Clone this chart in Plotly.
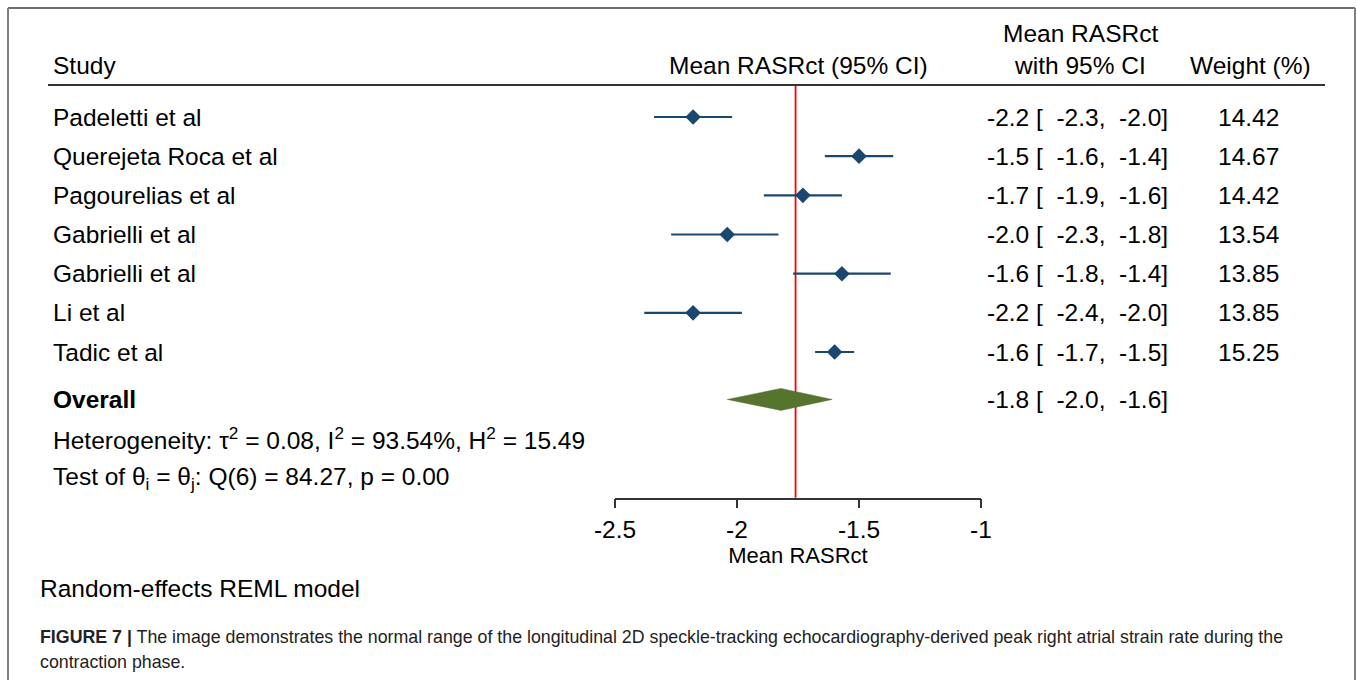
import plotly.graph_objects as go

# ---------------- data ----------------
studies = ["Padeletti et al", "Querejeta Roca et al", "Pagourelias et al",
           "Gabrielli et al", "Gabrielli et al", "Li et al", "Tadic et al"]
mean_vals = [-2.18, -1.50, -1.73, -2.04, -1.57, -2.18, -1.60]
lower_ci = [-2.34, -1.64, -1.89, -2.27, -1.77, -2.38, -1.68]
upper_ci = [-2.02, -1.36, -1.57, -1.83, -1.37, -1.98, -1.52]
weights = [14.42, 14.67, 14.42, 13.54, 13.85, 13.85, 15.25]

overall_mean = -1.82
overall_lower = -2.04
overall_upper = -1.61
reference_line = -1.76

x_ticks = [-2.5, -2, -1.5, -1]
x_tick_labels = ["-2.5", "-2", "-1.5", "-1"]

heterogeneity_text = "Heterogeneity: τ<sup>2</sup> = 0.08, I<sup>2</sup> = 93.54%, H<sup>2</sup> = 15.49"
test_text = "Test of θ<sub>i</sub> = θ<sub>j</sub>: Q(6) = 84.27, p = 0.00"
model_text = "Random-effects REML model"
caption_line1 = ("<b>FIGURE 7 |</b> The image demonstrates the normal range of the longitudinal 2D "
                 "speckle-tracking echocardiography-derived peak right atrial strain rate during the")
caption_line2 = "contraction phase."

# ---------------- layout constants ----------------
W, H = 1357, 680
FONT = "Liberation Sans, Arial, Helvetica, sans-serif"
NAVY = "#1a476f"
GREEN = "#55752f"
FS = 24.5

x_left_px, x_right_px = 615, 981
top_px, bot_px = 85, 497.7
row1_px, step_px = 117, 39.17
y_top = 1 - (row1_px - top_px) / step_px
y_bot = 1 + (bot_px - row1_px) / step_px

n = len(studies)
rows = list(range(1, n + 1))
overall_row = n + 1.21
het_row = n + 2.22
test_row = n + 3.22
diamond_half = 11 / step_px


def px(xp):
    return xp / W


def py(yp):
    return 1 - yp / H


fig = go.Figure()

# study estimates with CI
fig.add_trace(go.Scatter(
    x=mean_vals, y=rows, mode="markers",
    marker=dict(symbol="diamond", size=12, color=NAVY, line=dict(width=0)),
    error_x=dict(type="data", symmetric=False,
                 array=[u - m for u, m in zip(upper_ci, mean_vals)],
                 arrayminus=[m - l for m, l in zip(mean_vals, lower_ci)],
                 width=0, thickness=2.2, color=NAVY),
    showlegend=False, hoverinfo="skip", cliponaxis=False))

# overall diamond
fig.add_trace(go.Scatter(
    x=[overall_lower, overall_mean, overall_upper, overall_mean, overall_lower],
    y=[overall_row, overall_row - diamond_half, overall_row, overall_row + diamond_half, overall_row],
    mode="lines", fill="toself", fillcolor=GREEN, line=dict(color=GREEN, width=0.5),
    showlegend=False, hoverinfo="skip"))

shapes = []
# reference line
shapes.append(dict(type="line", xref="x", yref="y domain", x0=reference_line, x1=reference_line,
                   y0=0, y1=1, line=dict(color="#ff0000", width=1.8), layer="below"))
# header rule
shapes.append(dict(type="line", xref="paper", yref="paper", x0=px(48), x1=px(1325),
                   y0=py(85), y1=py(85), line=dict(color="#333333", width=2)))
# frame
shapes.append(dict(type="line", xref="paper", yref="paper", x0=px(8), x1=px(1355),
                   y0=py(8), y1=py(8), line=dict(color="#3c3c3c", width=1.5)))
shapes.append(dict(type="line", xref="paper", yref="paper", x0=px(8), x1=px(8),
                   y0=py(8), y1=py(H + 5), line=dict(color="#808080", width=2)))
shapes.append(dict(type="line", xref="paper", yref="paper", x0=px(1355), x1=px(1355),
                   y0=py(8), y1=py(H + 5), line=dict(color="#808080", width=2)))

ann = []


def txt(text, x, y, xanchor="left", size=FS, yref="paper", color="#000000", yanchor="middle"):
    ann.append(dict(text=text, x=x, y=y, xref="paper", yref=yref, xanchor=xanchor,
                    yanchor=yanchor, showarrow=False,
                    font=dict(family=FONT, size=size, color=color)))


# headers
txt("Study", px(51), py(66))
txt("Mean RASRct (95% CI)", px(930), py(66), xanchor="right")
txt("Mean RASRct", px(1080), py(33), xanchor="center")
txt("with 95% CI", px(1080), py(66), xanchor="center")
txt("Weight (%)", px(1313), py(66), xanchor="right")

NB = "\u00a0"
for r, s, m, lo, hi, w in zip(rows, studies, mean_vals, lower_ci, upper_ci, weights):
    txt(s, px(51), r, yref="y")
    txt(f"{m:.1f} [{NB}{NB}{lo:.1f},{NB}{NB}{hi:.1f}]", px(985), r, yref="y")
    txt(f"{w:.2f}", px(1248), r, xanchor="center", yref="y")

txt("<b>Overall</b>", px(51), overall_row, yref="y")
txt(f"{overall_mean:.1f} [{NB}{NB}{overall_lower:.1f},{NB}{NB}{overall_upper:.1f}]",
    px(985), overall_row, yref="y")
txt(heterogeneity_text, px(51), het_row, yref="y")
txt(test_text, px(51), test_row, yref="y")

txt(model_text, px(38), py(588))
txt(caption_line1, px(38), py(637), size=17.8, color="#222222")
txt(caption_line2, px(38), py(662), size=17.8, color="#222222")

fig.update_layout(
    width=W, height=H, margin=dict(l=0, r=0, t=0, b=0, pad=0, autoexpand=False),
    paper_bgcolor="white", plot_bgcolor="white",
    font=dict(family=FONT, color="#000000"),
    showlegend=False,
    shapes=shapes, annotations=ann,
    xaxis=dict(domain=[px(x_left_px), px(x_right_px)], range=[-2.5, -1],
               tickvals=x_ticks, ticktext=x_tick_labels, automargin=False,
               showline=True, linecolor="#333333", linewidth=1.5,
               ticks="outside", ticklen=9, tickwidth=1.5, tickcolor="#333333",
               tickfont=dict(family=FONT, size=FS, color="#000000"),
               showgrid=False, zeroline=False, fixedrange=True,
               title=dict(text="Mean RASRct", standoff=0,
                          font=dict(family=FONT, size=22, color="#000000"))),
    yaxis=dict(domain=[py(bot_px), py(top_px)], range=[y_bot, y_top], automargin=False,
               visible=False, showgrid=False, zeroline=False, fixedrange=True),
)

fig.write_html("out.html")
